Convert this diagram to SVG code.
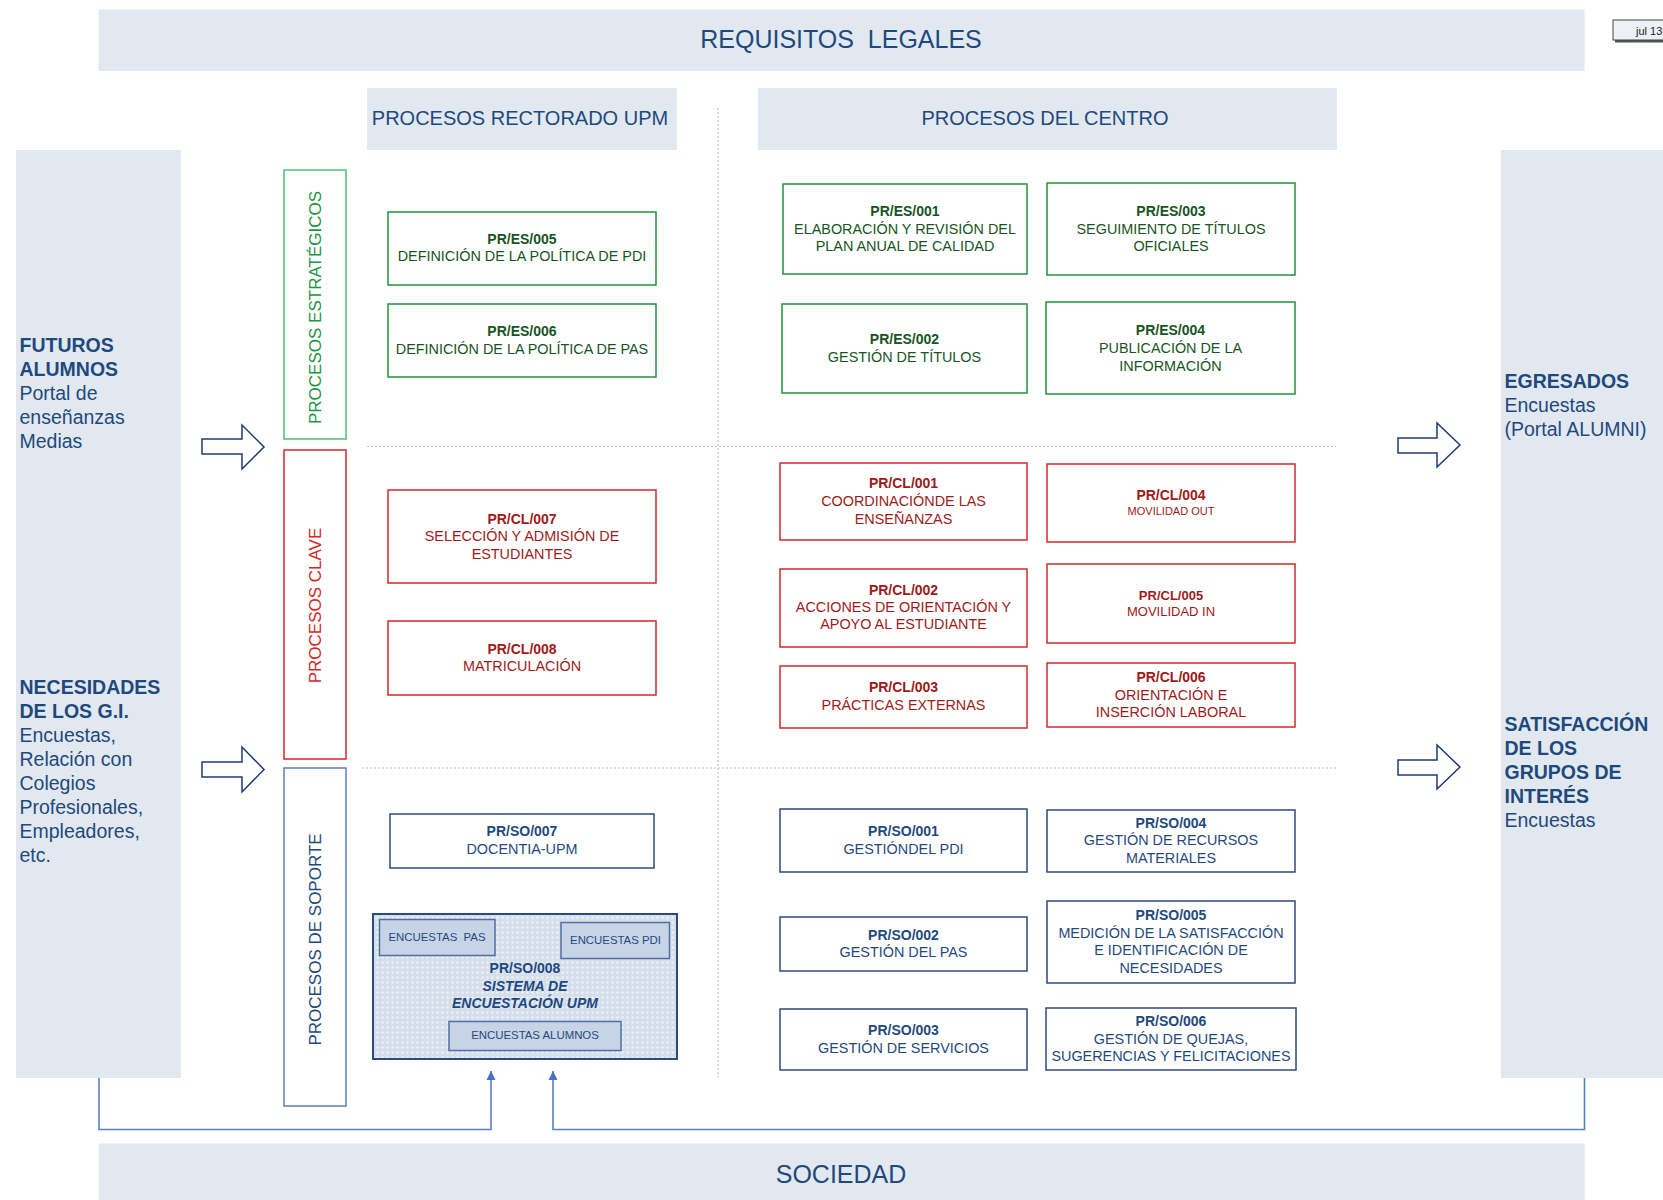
<svg xmlns="http://www.w3.org/2000/svg" width="1663" height="1200" viewBox="0 0 1663 1200">
<defs>
<style>
text{font-family:"Liberation Sans",Arial,sans-serif;}
.band{fill:#E1E8F0;}
.bt{fill:#1F497D;text-anchor:middle;}
.side{fill:#1F497D;font-size:19.5px;}
.sideb{font-weight:bold;}
.n{fill:#fff;stroke-width:1.5;}
.es{stroke:#23933C;}
.cl{stroke:#D42A2A;}
.so{stroke:#2C4A7E;}
.t{text-anchor:middle;font-size:14.4px;}
.tes{fill:#175424;}
.tcl{fill:#A01A1A;}
.tso{fill:#1F497D;}
.b{font-weight:bold;font-size:14px;}
.cat{fill:#fff;stroke-width:1.5;}
.catt{font-size:17px;text-anchor:middle;}
.blk{fill:#fff;stroke:#1F3B73;stroke-width:1.5;}
.grid{stroke:#B9C5D8;stroke-width:1.2;stroke-dasharray:2 2;fill:none;}
.conn{fill:none;stroke:#5580C2;stroke-width:1.6;}
.inner{fill:#C7D4E6;stroke:#506FA0;stroke-width:1.5;}
.it{fill:#1F497D;font-size:11.4px;text-anchor:middle;}
</style>
<pattern id="dots" width="5" height="5" patternUnits="userSpaceOnUse">
<rect width="5" height="5" fill="#D5DFEC"/>
<circle cx="2.5" cy="2.5" r="1.2" fill="#EEF2F8"/>
</pattern>
<marker id="ah" viewBox="0 0 10 10" refX="10" refY="5" markerWidth="9" markerHeight="10" markerUnits="userSpaceOnUse" orient="auto">
<path d="M0,0 L10,5 L0,10 z" fill="#4472C4"/>
</marker>
</defs>

<g id="requisitos">
<rect class="band" x="98.6" y="9.5" width="1486" height="61.5"/>
<text class="bt" x="841" y="47.5" font-size="25">REQUISITOS&#160; LEGALES</text>
</g>
<g id="jul13">
<rect x="1615" y="22" width="60" height="20.5" fill="#555"/>
<rect x="1613" y="20" width="60" height="20" fill="#EEF0F8" stroke="#444" stroke-width="1"/>
<text x="1636" y="34.5" font-size="11" fill="#222">jul 13</text>
</g>
<g id="hdr-rectorado">
<rect class="band" x="367" y="88" width="310" height="62"/>
<text class="bt" x="520" y="125" font-size="20">PROCESOS RECTORADO UPM</text>
</g>
<g id="hdr-centro">
<rect class="band" x="758" y="88" width="579" height="62"/>
<text class="bt" x="1045" y="125" font-size="20">PROCESOS DEL CENTRO</text>
</g>

<g id="grid">
<line class="grid" x1="718" y1="108" x2="718" y2="1077"/>
<line class="grid" x1="367" y1="446.5" x2="1336" y2="446.5"/>
<line class="grid" x1="362" y1="768" x2="1336" y2="768"/>
</g>

<g id="panel-left">
<rect class="band" x="16" y="150" width="165" height="928"/>
<text class="side sideb" x="19.5" y="352">FUTUROS</text>
<text class="side sideb" x="19.5" y="376">ALUMNOS</text>
<text class="side" x="19.5" y="400">Portal de</text>
<text class="side" x="19.5" y="424">enseñanzas</text>
<text class="side" x="19.5" y="448">Medias</text>
<text class="side sideb" x="19.5" y="694.3">NECESIDADES</text>
<text class="side sideb" x="19.5" y="718.3">DE LOS G.I.</text>
<text class="side" x="19.5" y="742.3">Encuestas,</text>
<text class="side" x="19.5" y="766.3">Relación con</text>
<text class="side" x="19.5" y="790.3">Colegios</text>
<text class="side" x="19.5" y="814.3">Profesionales,</text>
<text class="side" x="19.5" y="838.3">Empleadores,</text>
<text class="side" x="19.5" y="862.3">etc.</text>
</g>
<g id="panel-right">
<rect class="band" x="1501" y="150" width="162" height="928"/>
<text class="side sideb" x="1504.5" y="388">EGRESADOS</text>
<text class="side" x="1504.5" y="412">Encuestas</text>
<text class="side" x="1504.5" y="436">(Portal ALUMNI)</text>
<text class="side sideb" x="1504.5" y="731">SATISFACCIÓN</text>
<text class="side sideb" x="1504.5" y="755">DE LOS</text>
<text class="side sideb" x="1504.5" y="779">GRUPOS DE</text>
<text class="side sideb" x="1504.5" y="803">INTERÉS</text>
<text class="side" x="1504.5" y="827">Encuestas</text>
</g>
<g id="sociedad">
<rect class="band" x="98.6" y="1143.5" width="1486" height="56.5"/>
<text class="bt" x="841" y="1183" font-size="25">SOCIEDAD</text>
</g>

<g id="cat-estrategicos">
<rect class="cat" x="284" y="170" width="62" height="269" stroke="#4DBE78"/>
<text class="catt" fill="#1E9446" transform="translate(321,307.5) rotate(-90)">PROCESOS ESTRATÉGICOS</text>
</g>
<g id="cat-clave">
<rect class="cat" x="284" y="450" width="62" height="309" stroke="#D9262C"/>
<text class="catt" fill="#D42828" transform="translate(321,605.5) rotate(-90)">PROCESOS CLAVE</text>
</g>
<g id="cat-soporte">
<rect class="cat" x="284" y="768" width="62" height="338" stroke="#5B7FB8"/>
<text class="catt" fill="#1F497D" transform="translate(321,939.5) rotate(-90)">PROCESOS DE SOPORTE</text>
</g>

<g id="arrows-block">
<polygon class="blk" points="202,439 242,439 242,425 264,447 242,469 242,454 202,454"/>
<polygon class="blk" points="202,762 242,762 242,747 264,769.5 242,792 242,777 202,777"/>
<polygon class="blk" points="1398,438 1437,438 1437,423 1460,445 1437,467 1437,453 1398,453"/>
<polygon class="blk" points="1398,760 1437,760 1437,745 1460,767 1437,789 1437,775 1398,775"/>
</g>

<g id="PR-ES-005"><rect class="n es" x="388" y="212" width="268" height="73"/>
<text class="t tes b" x="522" y="244">PR/ES/005</text><text class="t tes" x="522" y="261">DEFINICIÓN DE LA POLÍTICA DE PDI</text></g>
<g id="PR-ES-006"><rect class="n es" x="388" y="304" width="268" height="73"/>
<text class="t tes b" x="522" y="336">PR/ES/006</text><text class="t tes" x="522" y="353.7">DEFINICIÓN DE LA POLÍTICA DE PAS</text></g>
<g id="PR-ES-001"><rect class="n es" x="783" y="184" width="244" height="90"/>
<text class="t tes b" x="905" y="216">PR/ES/001</text><text class="t tes" x="905" y="234">ELABORACIÓN Y REVISIÓN DEL</text><text class="t tes" x="905" y="251.3">PLAN ANUAL DE CALIDAD</text></g>
<g id="PR-ES-003"><rect class="n es" x="1047" y="183" width="248" height="92"/>
<text class="t tes b" x="1171" y="216">PR/ES/003</text><text class="t tes" x="1171" y="234">SEGUIMIENTO DE TÍTULOS</text><text class="t tes" x="1171" y="251">OFICIALES</text></g>
<g id="PR-ES-002"><rect class="n es" x="782" y="304" width="245" height="89"/>
<text class="t tes b" x="904.5" y="344">PR/ES/002</text><text class="t tes" x="904.5" y="361.7">GESTIÓN DE TÍTULOS</text></g>
<g id="PR-ES-004"><rect class="n es" x="1046" y="302" width="249" height="92"/>
<text class="t tes b" x="1170.5" y="335">PR/ES/004</text><text class="t tes" x="1170.5" y="352.7">PUBLICACIÓN DE LA</text><text class="t tes" x="1170.5" y="370.7">INFORMACIÓN</text></g>

<g id="PR-CL-007"><rect class="n cl" x="388" y="490" width="268" height="93"/>
<text class="t tcl b" x="522" y="523.7">PR/CL/007</text><text class="t tcl" x="522" y="541">SELECCIÓN Y ADMISIÓN DE</text><text class="t tcl" x="522" y="558.7">ESTUDIANTES</text></g>
<g id="PR-CL-008"><rect class="n cl" x="388" y="621" width="268" height="74"/>
<text class="t tcl b" x="522" y="654">PR/CL/008</text><text class="t tcl" x="522" y="670.7">MATRICULACIÓN</text></g>
<g id="PR-CL-001"><rect class="n cl" x="780" y="463" width="247" height="77"/>
<text class="t tcl b" x="903.5" y="487.7">PR/CL/001</text><text class="t tcl" x="903.5" y="505.7">COORDINACIÓNDE LAS</text><text class="t tcl" x="903.5" y="523.7">ENSEÑANZAS</text></g>
<g id="PR-CL-004"><rect class="n cl" x="1047" y="464" width="248" height="78"/>
<text class="t tcl b" x="1171" y="500">PR/CL/004</text><text class="t tcl" x="1171" y="515" style="font-size:11px">MOVILIDAD OUT</text></g>
<g id="PR-CL-002"><rect class="n cl" x="780" y="569" width="247" height="78"/>
<text class="t tcl b" x="903.5" y="594.7">PR/CL/002</text><text class="t tcl" x="903.5" y="611.7">ACCIONES DE ORIENTACIÓN Y</text><text class="t tcl" x="903.5" y="629.3">APOYO AL ESTUDIANTE</text></g>
<g id="PR-CL-005"><rect class="n cl" x="1047" y="564" width="248" height="79"/>
<text class="t tcl b" x="1171" y="600" style="font-size:13px">PR/CL/005</text><text class="t tcl" x="1171" y="616" style="font-size:13px">MOVILIDAD IN</text></g>
<g id="PR-CL-003"><rect class="n cl" x="780" y="666" width="247" height="62"/>
<text class="t tcl b" x="903.5" y="691.7">PR/CL/003</text><text class="t tcl" x="903.5" y="709.7">PRÁCTICAS EXTERNAS</text></g>
<g id="PR-CL-006"><rect class="n cl" x="1047" y="663" width="248" height="64"/>
<text class="t tcl b" x="1171" y="682">PR/CL/006</text><text class="t tcl" x="1171" y="700">ORIENTACIÓN E</text><text class="t tcl" x="1171" y="717">INSERCIÓN LABORAL</text></g>

<g id="PR-SO-007"><rect class="n so" x="390" y="814" width="264" height="54"/>
<text class="t tso b" x="522" y="836">PR/SO/007</text><text class="t tso" x="522" y="854">DOCENTIA-UPM</text></g>
<g id="PR-SO-008">
<rect x="373" y="914" width="304" height="145" fill="url(#dots)" stroke="#2B4A7E" stroke-width="2"/>
<rect class="inner" x="379.5" y="919.5" width="115.5" height="36"/>
<text class="it" x="437" y="940.8">ENCUESTAS&#160; PAS</text>
<rect class="inner" x="561" y="922.5" width="108.5" height="36"/>
<text class="it" x="615.5" y="944">ENCUESTAS PDI</text>
<text class="t tso b" x="525" y="973.3">PR/SO/008</text>
<text class="t tso b" x="525" y="991" font-style="italic">SISTEMA DE</text>
<text class="t tso b" x="525" y="1008.3" font-style="italic">ENCUESTACIÓN UPM</text>
<rect class="inner" x="449" y="1021.5" width="172" height="29"/>
<text class="it" x="535" y="1039.4">ENCUESTAS ALUMNOS</text>
</g>
<g id="PR-SO-001"><rect class="n so" x="780" y="809" width="247" height="63"/>
<text class="t tso b" x="903.5" y="836">PR/SO/001</text><text class="t tso" x="903.5" y="854">GESTIÓNDEL PDI</text></g>
<g id="PR-SO-004"><rect class="n so" x="1047" y="810" width="248" height="62"/>
<text class="t tso b" x="1171" y="827.7">PR/SO/004</text><text class="t tso" x="1171" y="845">GESTIÓN DE RECURSOS</text><text class="t tso" x="1171" y="862.7">MATERIALES</text></g>
<g id="PR-SO-002"><rect class="n so" x="780" y="917" width="247" height="54"/>
<text class="t tso b" x="903.5" y="939.7">PR/SO/002</text><text class="t tso" x="903.5" y="957">GESTIÓN DEL PAS</text></g>
<g id="PR-SO-005"><rect class="n so" x="1047" y="901" width="248" height="82"/>
<text class="t tso b" x="1171" y="920">PR/SO/005</text><text class="t tso" x="1171" y="937.7">MEDICIÓN DE LA SATISFACCIÓN</text><text class="t tso" x="1171" y="955">E IDENTIFICACIÓN DE</text><text class="t tso" x="1171" y="973">NECESIDADES</text></g>
<g id="PR-SO-003"><rect class="n so" x="780" y="1009" width="247" height="61"/>
<text class="t tso b" x="903.5" y="1035">PR/SO/003</text><text class="t tso" x="903.5" y="1052.7">GESTIÓN DE SERVICIOS</text></g>
<g id="PR-SO-006"><rect class="n so" x="1046" y="1008" width="250" height="62"/>
<text class="t tso b" x="1171" y="1025.7">PR/SO/006</text><text class="t tso" x="1171" y="1043.7">GESTIÓN DE QUEJAS,</text><text class="t tso" x="1171" y="1061">SUGERENCIAS Y FELICITACIONES</text></g>

<g id="connectors">
<path class="conn" d="M99,1078 V1129.5 H491 V1071" marker-end="url(#ah)"/>
<path class="conn" d="M1584.5,1078 V1129.5 H553 V1071" marker-end="url(#ah)"/>
</g>
</svg>
